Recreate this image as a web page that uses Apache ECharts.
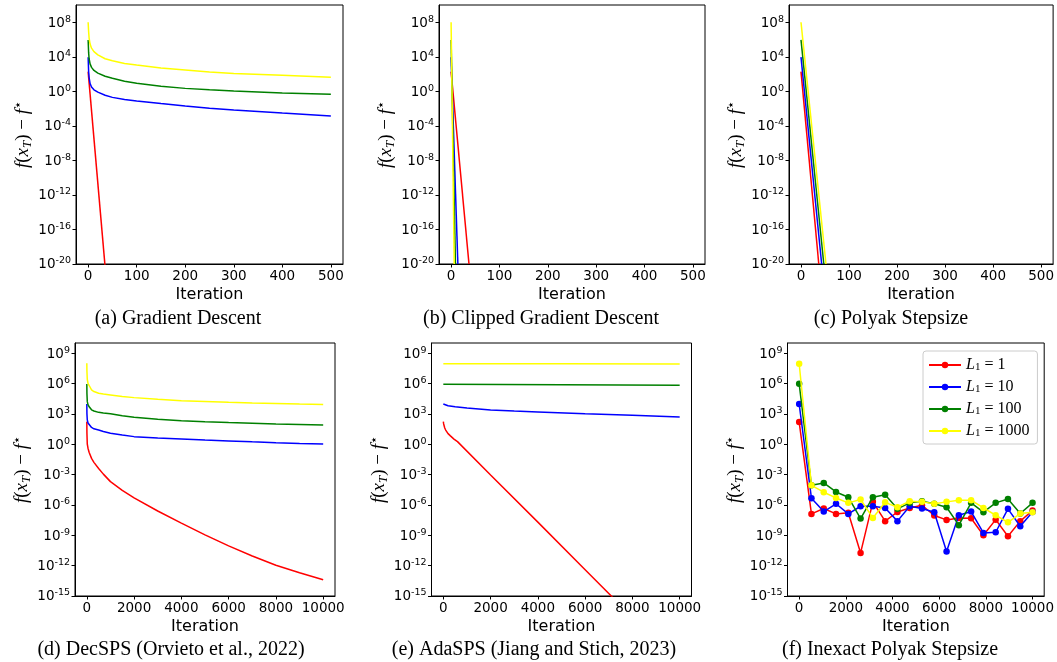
<!DOCTYPE html>
<html>
<head>
<meta charset="utf-8">
<script src="https://cdn.jsdelivr.net/npm/echarts@6/dist/echarts.min.js"></script>
<style>
html,body{margin:0;padding:0;background:#fff;}
#chart{width:1057px;height:662px;}
</style>
</head>
<body>
<div id="chart"></div>
<script>
// ---------- DATA ----------
const seriesNames = ['L1 = 1', 'L1 = 10', 'L1 = 100', 'L1 = 1000'];
const colors = ['#ff0000', '#0000ff', '#008000', '#ffff00'];

const captions = ['(a) Gradient Descent', '(b) Clipped Gradient Descent', '(c) Polyak Stepsize',
  '(d) DecSPS (Orvieto et al., 2022)', '(e) AdaSPS (Jiang and Stich, 2023)', '(f) Inexact Polyak Stepsize'];

const ticksTopX = [0, 100, 200, 300, 400, 500];
const ticksBotX = [0, 2000, 4000, 6000, 8000, 10000];
const ticksTopY = [1e-20, 1e-16, 1e-12, 1e-8, 1e-4, 1e0, 1e4, 1e8];
const ticksBotY = [1e-15, 1e-12, 1e-9, 1e-6, 1e-3, 1e0, 1e3, 1e6, 1e9];

// (a) Gradient Descent
const gdIterL1 = [0, 36];
const gdL1 = [190, 1e-21];
const gdIter = [0, 1, 2, 4, 7, 12, 20, 35, 50, 75, 100, 150, 200, 250, 300, 400, 500];
const gdL10 = [9000, 200, 40, 8, 3.2, 1.5, 0.8, 0.35, 0.2, 0.11, 0.076, 0.038, 0.02, 0.011, 0.007, 0.003, 0.0014];
const gdL100 = [9e5, 3e4, 6000, 1500, 600, 260, 130, 55, 32, 15, 8.5, 3.8, 2.2, 1.5, 1.1, 0.63, 0.45];
const gdL1000 = [1e8, 8e6, 1.5e6, 3e5, 1e5, 4e4, 1.7e4, 6000, 3500, 1700, 1100, 500, 300, 170, 120, 72, 43];

// (b) Clipped Gradient Descent
const cgdIterL1 = [0, 37];      const cgdL1 = [190, 1e-20];
const cgdIterL10 = [0, 14];     const cgdL10 = [9000, 1e-20];
const cgdIterL100 = [0, 9];     const cgdL100 = [9e5, 1e-20];
const cgdIterL1000 = [0, 6.5];  const cgdL1000 = [1e8, 1e-20];

// (c) Polyak Stepsize
const psIterL1 = [0, 37];       const psL1 = [190, 1e-20];
const psIterL10 = [0, 43];      const psL10 = [9000, 1e-20];
const psIterL100 = [0, 47.5];   const psL100 = [9e5, 1e-20];
const psIterL1000 = [0, 52];    const psL1000 = [1e8, 1e-20];

// (d) DecSPS
const decIter = [0, 5, 20, 50, 100, 200, 300, 500, 700, 1000, 1500, 2000, 3000, 4000, 5000, 6000, 7000, 8000, 9000, 10000];
const decL1 = [170, 12, 1, 0.4, 0.15, 0.04, 0.016, 0.004, 1.1e-3, 2e-4, 2.8e-5, 5e-6, 2.5e-7, 1.6e-8, 1.1e-9, 9e-11, 9e-12, 1.1e-12, 2e-13, 4e-14];
const decL10 = [9500, 1000, 250, 125, 80, 45, 33, 25, 18, 12, 8, 5.6, 4.2, 3.3, 2.6, 2.1, 1.7, 1.4, 1.2, 1.05];
const decL100 = [9e5, 1e5, 16000, 8000, 5000, 2500, 1900, 1400, 1200, 1000, 650, 460, 300, 210, 170, 140, 120, 100, 90, 80];
const decL1000 = [1e8, 1.6e7, 2.5e6, 1e6, 6.3e5, 2.3e5, 1.6e5, 1.1e5, 9e4, 7.4e4, 5.2e4, 4e4, 2.7e4, 2e4, 1.7e4, 1.4e4, 1.2e4, 1.05e4, 9200, 8300];

// (e) AdaSPS
const adaIterL1 = [0, 15, 30, 60, 100, 200, 300, 450, 600, 2000, 4000, 6000, 7200];
const adaL1 = [170, 100, 70, 40, 25, 11, 6.6, 3.2, 1.8, 9e-4, 2e-8, 4e-13, 6e-16];
const adaIterL10 = [0, 50, 200, 500, 1000, 2000, 3000, 4000, 6000, 8000, 10000];
const adaL10 = [9500, 8000, 6300, 5000, 3800, 2450, 1900, 1550, 1000, 720, 500];
const adaIterL100 = [0, 5000, 10000];
const adaL100 = [8.5e5, 7.7e5, 6.8e5];
const adaIterL1000 = [0, 5000, 10000];
const adaL1000 = [8.7e7, 8.7e7, 8.6e7];

// (f) Inexact Polyak Stepsize
const ipIter = [0, 526, 1053, 1579, 2105, 2632, 3158, 3684, 4211, 4737, 5263, 5789, 6316, 6842, 7368, 7895, 8421, 8947, 9474, 10000];
const ipL1 = [155, 1.3e-7, 4.4e-7, 1.3e-7, 1.7e-7, 1.8e-11, 2.0e-6, 2.5e-8, 2.0e-7, 5.0e-7, 9.3e-7, 8.9e-8, 3.3e-8, 5.2e-8, 4.8e-8, 1.0e-9, 3.5e-8, 8.1e-10, 2.5e-8, 2.8e-7];
const ipL10 = [9300, 4.6e-6, 2.2e-7, 1.3e-6, 1.3e-7, 7.4e-7, 7.4e-7, 5.0e-7, 2.5e-8, 7.4e-7, 4.4e-7, 1.9e-7, 2.5e-11, 9.5e-8, 2.2e-7, 1.7e-9, 2.0e-9, 4.1e-7, 7.9e-9, 2.0e-7];
const ipL100 = [9.3e5, 8.7e-5, 1.5e-4, 1.9e-5, 5.8e-6, 4.5e-8, 5.8e-6, 1.0e-5, 4.1e-7, 1.6e-6, 2.3e-6, 1.3e-6, 5.9e-7, 1.0e-8, 1.6e-6, 1.9e-7, 1.6e-6, 3.9e-6, 1.4e-7, 1.6e-6];
const ipL1000 = [8.9e7, 8.7e-5, 1.8e-5, 4.9e-6, 1.6e-6, 3.4e-6, 5.2e-8, 1.8e-6, 5.9e-7, 2.3e-6, 2.0e-6, 1.3e-6, 2.0e-6, 2.9e-6, 2.9e-6, 5.0e-7, 9.5e-8, 1.9e-8, 1.4e-7, 1.9e-7];

// ---------- LAYOUT ----------
const grids = [
  {left: 76, top: 5, width: 267, height: 259},
  {left: 439, top: 5, width: 266, height: 259},
  {left: 789, top: 5, width: 266, height: 259},
  {left: 75, top: 343, width: 260, height: 253},
  {left: 431.5, top: 343, width: 260, height: 253},
  {left: 787.5, top: 343, width: 260, height: 253}
];
const captionPos = [[178, 319], [541, 319], [891, 319], [171, 650], [534, 650], [890, 650]];

const panels = [
  {x: [gdIterL1, gdIter, gdIter, gdIter], y: [gdL1, gdL10, gdL100, gdL1000], top: true},
  {x: [cgdIterL1, cgdIterL10, cgdIterL100, cgdIterL1000], y: [cgdL1, cgdL10, cgdL100, cgdL1000], top: true},
  {x: [psIterL1, psIterL10, psIterL100, psIterL1000], y: [psL1, psL10, psL100, psL1000], top: true},
  {x: [decIter, decIter, decIter, decIter], y: [decL1, decL10, decL100, decL1000], top: false},
  {x: [adaIterL1, adaIterL10, adaIterL100, adaIterL1000], y: [adaL1, adaL10, adaL100, adaL1000], top: false},
  {x: [ipIter, ipIter, ipIter, ipIter], y: [ipL1, ipL10, ipL100, ipL1000], top: false, markers: true}
];

const tickFont = 'DejaVu Sans';
const serif = 'Liberation Serif';

function powLabel(v) {
  const e = Math.round(Math.log10(v));
  return '{b|10}{e|' + (e < 0 ? '-' + (-e) : e) + '}';
}
const powRich = {
  b: {fontFamily: tickFont, fontSize: 13.5, lineHeight: 16, color: '#000', verticalAlign: 'bottom'},
  e: {fontFamily: tickFont, fontSize: 9.5, lineHeight: 9, color: '#000', verticalAlign: 'top'}
};

const yName = '{i|f}{r|(}{i|x}{s|T}{r|) \u2212 }{i|f}{p|\u22C6}';
const yNameRich = {
  i: {fontFamily: serif, fontStyle: 'italic', fontSize: 19, color: '#000', lineHeight: 22},
  r: {fontFamily: serif, fontSize: 19, color: '#000', lineHeight: 22},
  s: {fontFamily: serif, fontStyle: 'italic', fontSize: 13, color: '#000', lineHeight: 13, verticalAlign: 'bottom'},
  p: {fontFamily: 'DejaVu Sans', fontSize: 13, color: '#000', lineHeight: 12, verticalAlign: 'top'}
};

const xAxes = [], yAxes = [], series = [], graphics = [];
panels.forEach((p, k) => {
  const xt = p.top ? ticksTopX : ticksBotX;
  const yt = p.top ? ticksTopY : ticksBotY;
  xAxes.push({
    type: 'value', gridIndex: k,
    min: p.top ? -25 : -500, max: p.top ? 525 : 10500,
    name: 'Iteration', nameLocation: 'middle', nameGap: 23,
    nameTextStyle: {fontFamily: tickFont, fontSize: 16, color: '#000'},
    axisLine: {show: true, onZero: false, lineStyle: {color: '#000', width: 1}},
    axisTick: {show: true, length: 3.5, lineStyle: {color: '#000'}, customValues: xt},
    axisLabel: {customValues: xt, formatter: v => String(Math.round(v)), fontFamily: tickFont, fontSize: 13.5, color: '#000', margin: 5},
    splitLine: {show: false}
  });
  yAxes.push({
    type: 'log', logBase: 10, gridIndex: k,
    min: p.top ? 0.999e-20 : 0.999e-15, max: 1e10,
    name: yName, nameLocation: 'middle', nameRotate: 90, nameGap: 39,
    nameTextStyle: {rich: yNameRich},
    axisLine: {show: true, onZero: false, lineStyle: {color: '#000', width: 1}},
    axisTick: {show: true, length: 3.5, lineStyle: {color: '#000'}, customValues: yt},
    axisLabel: {customValues: yt, formatter: powLabel, rich: powRich, margin: 5},
    splitLine: {show: false}, minorTick: {show: false}
  });
  for (let s = 0; s < 4; s++) {
    const xs = p.x[s], ys = p.y[s];
    series.push({
      type: 'line', name: seriesNames[s], xAxisIndex: k, yAxisIndex: k,
      data: xs.map((xv, i) => [xv, ys[i]]),
      showSymbol: !!p.markers, symbol: 'circle', symbolSize: 6.5,
      smooth: false,
      lineStyle: {color: colors[s], width: 1.5},
      itemStyle: {color: colors[s]},
      emphasis: {disabled: true},
      clip: true, animation: false, z: 2 + s
    });
  }
  graphics.push({
    type: 'text', x: captionPos[k][0], y: captionPos[k][1],
    style: {text: captions[k], font: '20px "Liberation Serif"', fill: '#000', align: 'center', verticalAlign: 'middle'}
  });
});

const chart = echarts.init(document.getElementById('chart'), null, {renderer: 'canvas'});
chart.setOption({
  animation: false,
  backgroundColor: '#fff',
  grid: grids.map(g => Object.assign({show: true, borderColor: '#000', borderWidth: 1, containLabel: false}, g)),
  xAxis: xAxes,
  yAxis: yAxes,
  legend: {
    show: true, orient: 'vertical', left: 923, top: 351,
    data: seriesNames,
    selectedMode: false,
    backgroundColor: '#fff', borderColor: '#ccc', borderWidth: 1, borderRadius: 3,
    padding: [6, 8, 5, 5], itemGap: 6, itemWidth: 32, itemHeight: 8,
    formatter: function (name) { return '{i|L}{s|1}{n| ' + name.replace('L1 ', '') + '}'; },
    textStyle: {
      rich: {
        i: {fontFamily: serif, fontStyle: 'italic', fontSize: 16, color: '#000', lineHeight: 16},
        s: {fontFamily: serif, fontSize: 11, color: '#000', lineHeight: 10, verticalAlign: 'bottom'},
        n: {fontFamily: serif, fontSize: 16, color: '#000', lineHeight: 16}
      }
    }
  },
  graphic: graphics,
  series: series
});
</script>
</body>
</html>
